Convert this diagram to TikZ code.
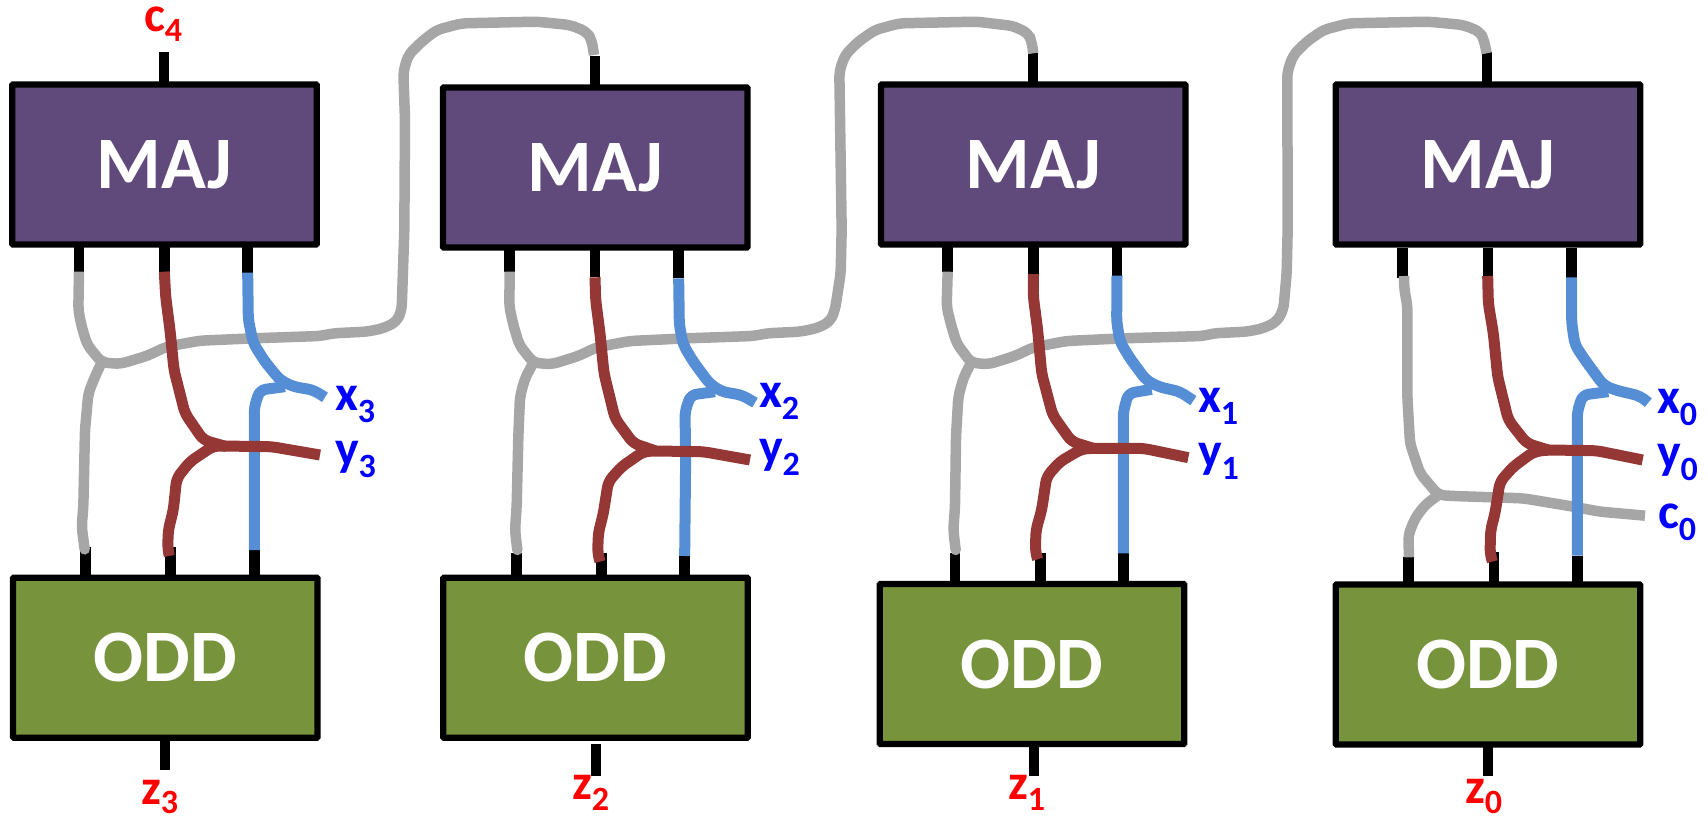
\documentclass[tikz,border=0pt]{standalone}
\usepackage{fontspec}
\setmainfont{Carlito}
\definecolor{wgrey}{HTML}{A6A6A6}
\definecolor{wred}{HTML}{953735}
\definecolor{wblue}{HTML}{558ED5}
\definecolor{majfill}{HTML}{604A7B}
\definecolor{oddfill}{HTML}{77933C}
\tikzset{
  gatebox/.style={draw=black,line width=6.2pt,rounded corners=0.8pt,minimum width=304.5pt,minimum height=160pt,inner sep=0pt,outer sep=0pt,text=white,font=\bfseries\fontsize{74}{80}\selectfont},
  majbox/.style={gatebox,fill=majfill},
  oddbox/.style={gatebox,fill=oddfill},
  stubline/.style={draw=black,line width=10.5pt},
  wire/.style={line width=11pt,rounded corners=6pt,line join=round},
  greywire/.style={wire,draw=wgrey,line width=10.5pt},
  redwire/.style={wire,draw=wred},
  bluewire/.style={wire,draw=wblue},
  lab/.style={anchor=base west,inner sep=0pt,outer sep=0pt,font=\bfseries\fontsize{50}{52}\selectfont},
  inlab/.style={lab,text=blue},
  outlab/.style={lab,text=red},
  frame/.style={x=0.33333pt,y=-0.33333pt}
}
\newcommand{\subnum}[2][12pt]{\raisebox{-#1}{\fontsize{34}{35}\selectfont #2}}
\newcommand{\majtext}{\raisebox{-2.5pt}{MAJ}}
\begin{document}
\begin{tikzpicture}[x=1pt,y=-1pt]
\useasboundingbox (0,0) rectangle (1708,816);
% gates
\node[majbox] (maj1) at (164.5,164.5) {\majtext};
\node[majbox] (maj2) at (595.3,167.5) {\majtext};
\node[majbox] (maj3) at (1033.2,164.5) {\majtext};
\node[majbox] (maj4) at (1488,164.5) {\majtext};
\node[oddbox] (odd1) at (165.3,657.7) {ODD};
\node[oddbox] (odd2) at (595.5,657.8) {ODD};
\node[oddbox] (odd3) at (1032,664) {ODD};
\node[oddbox] (odd4) at (1488,664.5) {ODD};
% outer stub ends
\coordinate (c1) at (164,52);
\coordinate (c2) at (595,56);
\coordinate (c3) at (1033,53);
\coordinate (c4) at (1487,52);
\coordinate (z1) at (165,770);
\coordinate (z2) at (596,776);
\coordinate (z3) at (1034,776);
\coordinate (z4) at (1488,776);
\draw[stubline] (maj1.north -| c1) -- (c1);
\draw[stubline] (maj2.north -| c2) -- (c2);
\draw[stubline] (maj3.north -| c3) -- (c3);
\draw[stubline] (maj4.north -| c4) -- (c4);
\draw[stubline] (odd1.south -| z1) -- (z1);
\draw[stubline] ([yshift=-6.2pt]odd2.south -| z2) -- (z2);
\draw[stubline] (odd3.south -| z3) -- (z3);
\draw[stubline] (odd4.south -| z4) -- (z4);
% column 1
\begin{scope}[shift={(0pt,-230pt)},frame]
\coordinate (u1a) at (237,125);\coordinate (u1b) at (493,125);\coordinate (u1c) at (743,128);
\coordinate (b1a) at (256,950);\coordinate (b1b) at (512,950);\coordinate (b1c) at (763,960);
\draw[stubline] (u1a |- maj1.south) -- (u1a);
\draw[stubline] (u1b |- maj1.south) -- (u1b);
\draw[stubline] (u1c |- maj1.south) -- (u1c);
\draw[stubline] (b1a) -- (b1a |- odd1.north);
\draw[stubline] (b1b) -- (b1b |- odd1.north);
\draw[stubline] (b1c) -- (b1c |- odd1.north);
\coordinate (jg1) at (305,397);\coordinate (jb1) at (855,470);\coordinate (jr1) at (640,648);
\draw[greywire] (u1a) -- (235,240) -- (245,290) -- (262,345) -- (jg1) -- (360,402) -- (440,378) -- (500,350) -- (600,332) -- (760,325) -- (960,318) -- (1000,310) -- (1100,305) -- (1150,295) -- (1190,275) -- (1205,240) -- (1213,0) -- (1215,-330) -- (1210,-475) -- (1225,-525) -- (1265,-565) -- (1310,-600) -- (1385,-620) -- (1610,-625) -- (1710,-615) -- (1760,-595) -- (1775,-570) -- (1782,-525);
\draw[greywire,line cap=round] (jg1) -- (285,440) -- (265,490) -- (255,600) -- (250,830) -- (245,890) -- (254,958);
\draw[bluewire] (u1c) -- (745,270) -- (760,340) -- (795,395) -- (840,450) -- (880,470) -- (940,480) -- (975,502);
\draw[bluewire] (b1c) -- (763,530) -- (780,480) -- (jb1);
\draw[redwire] (u1b) -- (497,200) -- (510,300) -- (522,420) -- (555,550) -- (610,630) -- (680,650);
\draw[redwire] (960,675) -- (815,650) -- (660,648) -- (jr1) -- (570,695) -- (530,745) -- (520,840) -- (505,900) -- (503,955) -- (508,978);
\end{scope}
% column 2
\begin{scope}[shift={(420pt,-230pt)},frame]
\coordinate (u2a) at (269,125);\coordinate (u2b) at (525,142);\coordinate (u2c) at (776,145);
\coordinate (b2a) at (289,968);\coordinate (b2b) at (544,968);\coordinate (b2c) at (794,978);
\draw[stubline] (u2a |- maj2.south) -- (u2a);
\draw[stubline] (u2b |- maj2.south) -- (u2b);
\draw[stubline] (u2c |- maj2.south) -- (u2c);
\draw[stubline] (b2a) -- ([yshift=-3pt]b2a |- odd2.north);
\draw[stubline] (b2b) -- ([yshift=-3pt]b2b |- odd2.north);
\draw[stubline] (b2c) -- ([yshift=-3pt]b2c |- odd2.north);
\coordinate (jg2) at (340,398);\coordinate (jb2) at (885,485);\coordinate (jr2) at (670,665);
\draw[greywire] (u2a) -- (268,230) -- (280,285) -- (298,345) -- (jg2) -- (395,403) -- (475,378) -- (530,352) -- (630,333) -- (800,325) -- (1000,318) -- (1040,310) -- (1140,305) -- (1190,295) -- (1230,275) -- (1245,240) -- (1262,130) -- (1265,0) -- (1258,-475) -- (1275,-525) -- (1315,-565) -- (1365,-600) -- (1438,-620) -- (1670,-625) -- (1780,-612) -- (1825,-590) -- (1835,-565) -- (1840,-530);
\draw[greywire,line cap=round] (jg2) -- (315,445) -- (300,500) -- (295,620) -- (290,830) -- (285,900) -- (292,960);
\draw[bluewire] (u2c) -- (778,285) -- (790,345) -- (820,395) -- (868,460) -- (905,485) -- (965,495) -- (1005,518);
\draw[bluewire] (b2c) -- (797,680) -- (795,545) -- (812,495) -- (jb2);
\draw[redwire] (u2b) -- (527,210) -- (540,310) -- (552,430) -- (585,565) -- (640,640) -- (705,662);
\draw[redwire] (990,690) -- (850,665) -- (700,663) -- (jr2) -- (605,710) -- (565,755) -- (550,850) -- (535,910) -- (533,970) -- (540,995);
\end{scope}
% column 3
\begin{scope}[shift={(860pt,-230pt)},frame]
\coordinate (u3a) at (263,125);\coordinate (u3b) at (520,132);\coordinate (u3c) at (771,137);
\coordinate (b3a) at (285,968);\coordinate (b3b) at (541,968);\coordinate (b3c) at (790,970);
\draw[stubline] (u3a |- maj3.south) -- (u3a);
\draw[stubline] (u3b |- maj3.south) -- (u3b);
\draw[stubline] (u3c |- maj3.south) -- (u3c);
\draw[stubline] (b3a) -- (b3a |- odd3.north);
\draw[stubline] (b3b) -- (b3b |- odd3.north);
\draw[stubline] (b3c) -- (b3c |- odd3.north);
\coordinate (jg3) at (333,398);\coordinate (jb3) at (875,478);\coordinate (jr3) at (665,657);
\draw[greywire] (u3a) -- (260,230) -- (272,280) -- (290,340) -- (jg3) -- (385,403) -- (465,378) -- (520,352) -- (620,333) -- (790,325) -- (1030,318) -- (1060,310) -- (1160,305) -- (1210,295) -- (1250,275) -- (1270,240) -- (1280,130) -- (1283,0) -- (1282,-475) -- (1300,-525) -- (1340,-565) -- (1390,-600) -- (1465,-620) -- (1705,-625) -- (1810,-615) -- (1860,-595) -- (1872,-570) -- (1880,-530);
\draw[greywire,line cap=round] (jg3) -- (310,445) -- (295,500) -- (288,620) -- (285,830) -- (280,900) -- (287,960);
\draw[bluewire] (u3c) -- (770,275) -- (780,335) -- (810,385) -- (858,450) -- (895,470) -- (960,485) -- (1000,512);
\draw[bluewire] (b3c) -- (790,545) -- (805,490) -- (jb3);
\draw[redwire] (u3b) -- (520,200) -- (533,300) -- (545,430) -- (578,555) -- (635,635) -- (700,655);
\draw[redwire] (985,683) -- (850,655) -- (695,655) -- (jr3) -- (600,695) -- (560,740) -- (545,840) -- (528,900) -- (526,965) -- (533,988);
\end{scope}
% column 4
\begin{scope}[shift={(1300pt,-230pt)},frame]
\coordinate (g4a) at (308,55);\coordinate (g4b) at (564,55);\coordinate (g4c) at (814,55);
\coordinate (u4a) at (308,145);\coordinate (u4b) at (564,140);\coordinate (u4c) at (814,143);
\coordinate (b4a) at (326,980);\coordinate (b4b) at (582,965);\coordinate (b4c) at (832,977);
\coordinate (w4a) at (312,138);\coordinate (w4b) at (563,138);\coordinate (w4c) at (815,142);
\draw[stubline] (g4a) -- (u4a);
\draw[stubline] (g4b) -- (u4b);
\draw[stubline] (g4c) -- (u4c);
\draw[stubline] (b4a) -- (b4a |- odd4.north);
\draw[stubline] (b4b) -- (b4b |- odd4.north);
\draw[stubline] (b4c) -- (b4c |- odd4.north);
\coordinate (jg4) at (415,795);\coordinate (jb4) at (925,485);\coordinate (jr4) at (700,666);
\draw[greywire] (w4a) -- (313,180) -- (322,225) -- (322,500) -- (330,640) -- (360,730) -- (jg4) -- (460,798) -- (670,805) -- (820,830) -- (900,845) -- (1035,857);
\draw[greywire] (jg4) -- (375,825) -- (345,865) -- (325,915) -- (327,982);
\draw[bluewire] (w4c) -- (815,280) -- (825,345) -- (855,390) -- (910,465) -- (945,480) -- (1020,498) -- (1045,518);
\draw[bluewire] (b4c) -- (832,545) -- (848,495) -- (jb4);
\draw[redwire] (w4b) -- (565,220) -- (580,310) -- (593,440) -- (625,570) -- (680,640) -- (745,660);
\draw[redwire] (1028,690) -- (890,662) -- (740,660) -- (jr4) -- (640,710) -- (600,755) -- (585,850) -- (572,900) -- (570,970) -- (577,995);
\end{scope}
% labels
\node[outlab] (lc4) at (144,32) {c\subnum[10pt]{4}};
\node[outlab] (lz3) at (141,804) {z\subnum[9pt]{3}};
\node[outlab] (lz2) at (572,799) {z\subnum[11pt]{2}};
\node[outlab] (lz1) at (1008,799) {z\subnum[11pt]{1}};
\node[outlab] (lz0) at (1465,803) {z\subnum[10pt]{0}};
\node[inlab] (lx3) at (335,410) {x\subnum{3}};
\node[inlab] (ly3) at (335,465) {y\subnum{3}};
\node[inlab] (lx2) at (759,407) {x\subnum{2}};
\node[inlab] (ly2) at (759,463) {y\subnum{2}};
\node[inlab] (lx1) at (1198,412) {x\subnum{1}};
\node[inlab] (ly1) at (1198,467) {y\subnum{1}};
\node[inlab] (lx0) at (1657,413) {x\subnum{0}};
\node[inlab] (ly0) at (1657,468) {y\subnum{0}};
\node[inlab] (lc0) at (1658,528) {c\subnum{0}};
\end{tikzpicture}
\end{document}
